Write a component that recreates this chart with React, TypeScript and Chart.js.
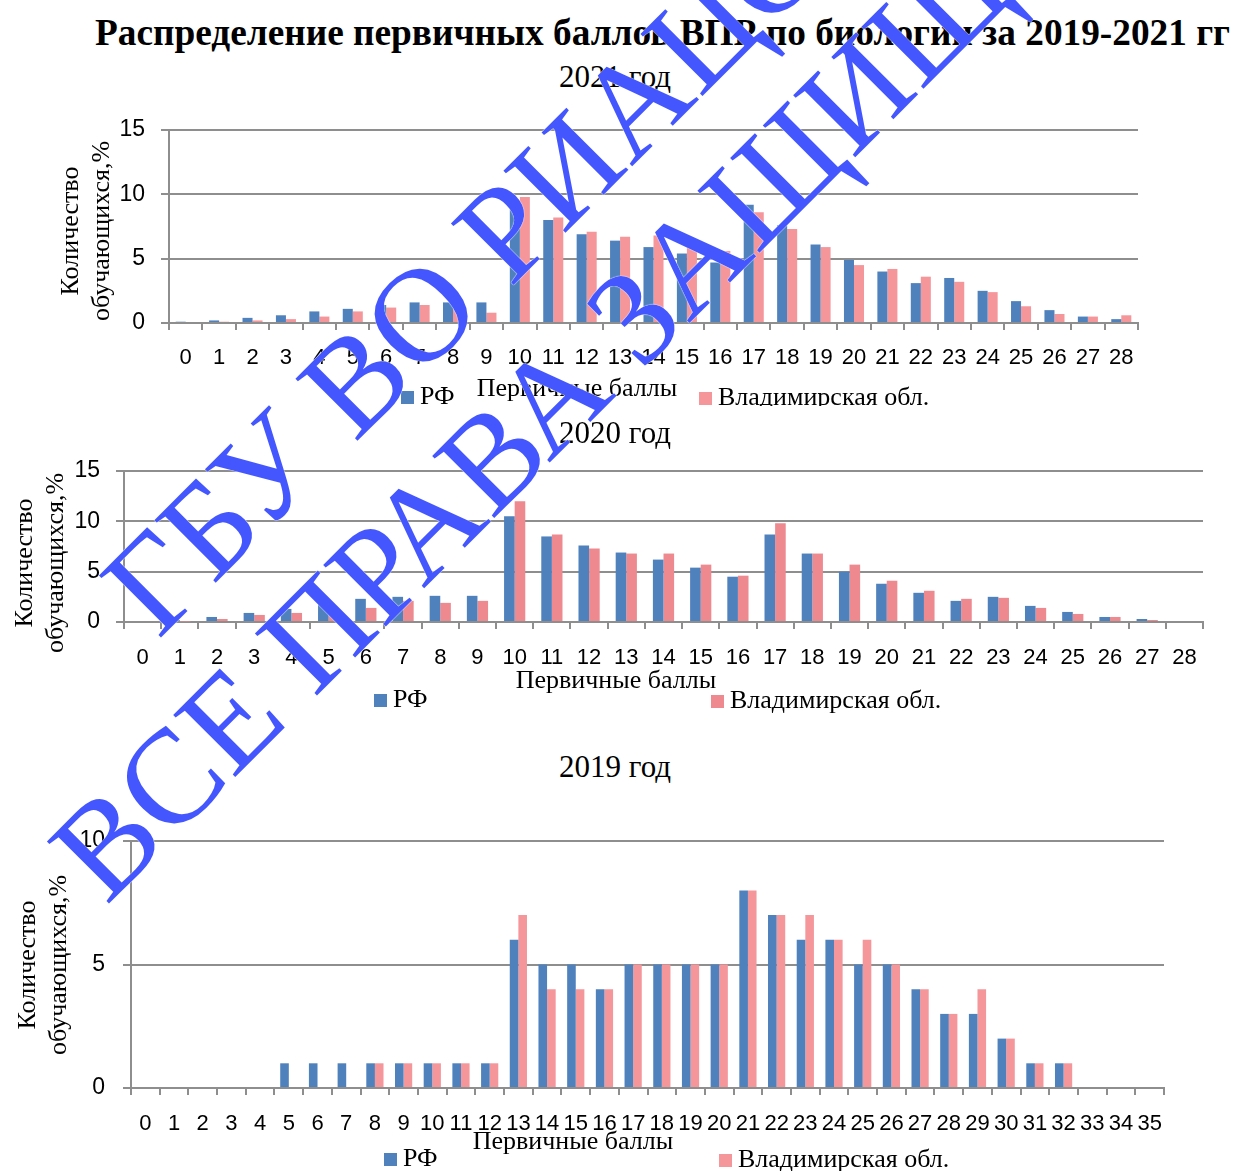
import React, { useEffect, useRef } from 'react';
import { Chart, registerables } from 'chart.js';

Chart.register(...registerables);

// ---------- DATA ----------
const labels2021 = ['0','1','2','3','4','5','6','7','8','9','10','11','12','13','14','15','16','17','18','19','20','21','22','23','24','25','26','27','28'];
const rf2021 = [0.1,0.2,0.4,0.6,0.9,1.1,1.4,1.6,1.6,1.6,9.1,8.0,6.9,6.4,5.9,5.4,4.7,9.2,7.6,6.1,4.9,4.0,3.1,3.5,2.5,1.7,1.0,0.5,0.3];
const vlad2021 = [0,0.1,0.2,0.3,0.5,0.9,1.2,1.4,1.4,0.8,9.8,8.2,7.1,6.7,6.8,6.2,5.6,8.6,7.3,5.9,4.5,4.2,3.6,3.2,2.4,1.3,0.7,0.5,0.6];

const labels2020 = ['0','1','2','3','4','5','6','7','8','9','10','11','12','13','14','15','16','17','18','19','20','21','22','23','24','25','26','27','28'];
const rf2020 = [0,0.2,0.5,0.9,1.3,1.8,2.3,2.5,2.6,2.6,10.5,8.5,7.6,6.9,6.2,5.4,4.5,8.7,6.8,5.0,3.8,2.9,2.1,2.5,1.6,1.0,0.5,0.3,0];
const vlad2020 = [0,0.05,0.3,0.7,0.9,1.3,1.4,2.1,1.9,2.1,12.0,8.7,7.3,6.8,6.8,5.7,4.6,9.8,6.8,5.7,4.1,3.1,2.3,2.4,1.4,0.8,0.5,0.2,0];

const labels2019 = ['0','1','2','3','4','5','6','7','8','9','10','11','12','13','14','15','16','17','18','19','20','21','22','23','24','25','26','27','28','29','30','31','32','33','34','35'];
const rf2019 = [0,0,0,0,0,1,1,1,1,1,1,1,1,6,5,5,4,5,5,5,5,8,7,6,6,5,5,4,3,3,2,1,1,0,0,0];
const vlad2019 = [0,0,0,0,0,0,0,0,1,1,1,1,1,7,4,4,4,5,5,5,5,8,7,7,6,6,5,4,3,4,2,1,1,0,0,0];

const yTicks15 = [0, 5, 10, 15];
const yTicks10 = [0, 5, 10];

const seriesNames = ['РФ', 'Владимирская обл.'];
const mainTitle = 'Распределение первичных баллов ВПР по биологии за 2019-2021 гг';
const xTitle = 'Первичные баллы';
const yTitleLines = ['Количество', 'обучающихся,%'];
const watermark1 = 'ГБУ ВО РИАЦОКО';
const watermark2 = 'ВСЕ ПРАВА ЗАЩИЩЕНЫ';

// ---------- STYLE ----------
const BLUE = '#4F81BD';
const PINK = '#F5969B';
const PINK2 = '#EE898F';
const GRID = '#8E8E8E';
const W = 1237;
const TOPPAD = 36;

type Panel = {
  labels: string[]; rf: number[]; vlad: number[]; yTicks: number[];
  bottom: number; left: number; right: number;
  plotTop: number; plotBottom: number; yPad: number; xPad: number; cat: number; pink: string;
};

function BarPanel({ p }: { p: Panel }) {
  const ref = useRef<HTMLCanvasElement | null>(null);
  const top = p.plotTop - TOPPAD;
  const height = p.bottom - top;
  useEffect(() => {
    if (!ref.current) return;
    const yMax = p.yTicks[p.yTicks.length - 1];
    const chart = new Chart(ref.current, {
      type: 'bar',
      data: {
        labels: p.labels,
        datasets: [
          { label: seriesNames[0], data: p.rf, backgroundColor: BLUE, borderWidth: 0, categoryPercentage: p.cat, barPercentage: 1 },
          { label: seriesNames[1], data: p.vlad, backgroundColor: p.pink, borderWidth: 0, categoryPercentage: p.cat, barPercentage: 1 },
        ],
      },
      options: {
        responsive: false,
        animation: false,
        devicePixelRatio: 1,
        layout: { padding: { top: TOPPAD, right: W - p.right, left: 0, bottom: 0 } },
        plugins: { legend: { display: false }, title: { display: false }, tooltip: { enabled: false } },
        scales: {
          x: {
            grid: { offset: true, drawOnChartArea: false, drawTicks: true, tickLength: 7, color: GRID, lineWidth: 2 },
            border: { display: true, color: GRID, width: 2 },
            ticks: {
              color: '#000', padding: p.xPad, autoSkip: false, maxRotation: 0, minRotation: 0,
              font: { family: 'Liberation Sans', size: 22 },
            },
            afterFit: (s: any) => { s.height = p.bottom - p.plotBottom; },
          },
          y: {
            min: 0, max: yMax,
            afterBuildTicks: (s: any) => { s.ticks = p.yTicks.map((v) => ({ value: v })); },
            ticks: { color: '#000', padding: p.yPad, font: { family: 'Liberation Sans', size: 23 } },
            grid: { color: GRID, lineWidth: 2, tickLength: 8 },
            border: { display: true, color: GRID, width: 2 },
            afterFit: (s: any) => { s.width = p.left; },
          },
        },
      },
    } as any);
    return () => chart.destroy();
  }, [p]);
  return (
    <canvas
      ref={ref}
      width={W}
      height={height}
      style={{ position: 'absolute', left: 0, top, width: W, height }}
    />
  );
}

const panels: Panel[] = [
  { labels: labels2021, rf: rf2021, vlad: vlad2021, yTicks: yTicks15, bottom: 382, left: 169, right: 1138, plotTop: 130, plotBottom: 323, yPad: 16, xPad: 15, cat: 0.6, pink: PINK },
  { labels: labels2020, rf: rf2020, vlad: vlad2020, yTicks: yTicks15, bottom: 682, left: 124, right: 1203, plotTop: 471, plotBottom: 622, yPad: 16, xPad: 16, cat: 0.57, pink: PINK2 },
  { labels: labels2019, rf: rf2019, vlad: vlad2019, yTicks: yTicks10, bottom: 1150, left: 131, right: 1164, plotTop: 841, plotBottom: 1088, yPad: 18, xPad: 16, cat: 0.6, pink: PINK },
];

function T({ x, y, size, bold, center, children }: { x: number; y: number; size: number; bold?: boolean; center?: boolean; children: React.ReactNode }) {
  return (
    <div style={{
      position: 'absolute', left: center ? x - 600 : x, width: center ? 1200 : undefined, top: y - size * 0.52,
      fontSize: size, lineHeight: 1, fontWeight: bold ? 'bold' : 'normal', whiteSpace: 'nowrap',
      textAlign: center ? 'center' : 'left', color: '#000', zIndex: 2,
    }}>{children}</div>
  );
}

function YTitle({ cx, cy }: { cx: number; cy: number }) {
  const w = 300, h = 62;
  return (
    <div style={{
      position: 'absolute', left: cx - w / 2, top: cy - h / 2, width: w, height: h,
      transform: 'rotate(-90deg)', textAlign: 'center', fontSize: 26, lineHeight: '31px', color: '#000', zIndex: 2,
    }}>
      <div>{yTitleLines[0]}</div>
      <div>{yTitleLines[1]}</div>
    </div>
  );
}

function Legend({ bx, rx, by, ry, pink, clip }: { bx: number; rx: number; by: number; ry: number; pink: string; clip?: number }) {
  return (
    <div style={{ position: 'absolute', left: 0, top: 0, width: W, height: clip ?? 1171, overflow: 'hidden', zIndex: 2 }}>
      <div style={{ position: 'absolute', left: bx, top: by - 6, width: 13, height: 13, background: BLUE }} />
      <T x={bx + 19} y={by} size={26}>{seriesNames[0]}</T>
      <div style={{ position: 'absolute', left: rx, top: ry - 6, width: 13, height: 13, background: pink }} />
      <T x={rx + 19} y={ry} size={26}>{seriesNames[1]}</T>
    </div>
  );
}

const WM_SIZE = 134;
function Watermark({ x, y, text }: { x: number; y: number; text: string }) {
  // (x, y) is the start of the baseline
  const off = WM_SIZE * 0.8375 * Math.SQRT1_2;
  return (
    <div style={{
      position: 'absolute', left: x - off, top: y - off, transformOrigin: '0 0', transform: 'rotate(-45deg)',
      fontFamily: '"Liberation Serif", serif', fontSize: WM_SIZE, lineHeight: 1, whiteSpace: 'nowrap',
      color: '#4457FF', zIndex: 10, pointerEvents: 'none',
      textShadow: '0 0 1px #fff, 0 0 1px #fff',
    }}>{text}</div>
  );
}

export default function App() {
  return (
    <div style={{
      position: 'absolute', left: 0, top: 0, width: W, height: 1171, background: '#fff', overflow: 'hidden',
      fontFamily: '"Liberation Serif", "Times New Roman", serif',
    }}>
      {panels.map((p, i) => <BarPanel key={i} p={p} />)}

      <T x={95} y={33} size={37.3} bold>{mainTitle}</T>

      <T x={615} y={77} size={31} center>2021 год</T>
      <T x={615} y={433} size={31} center>2020 год</T>
      <T x={615} y={767} size={31} center>2019 год</T>

      <YTitle cx={85} cy={231} />
      <YTitle cx={39} cy={563} />
      <YTitle cx={42} cy={965} />

      <T x={577} y={389} size={26} center>{xTitle}</T>
      <T x={616} y={681} size={26} center>{xTitle}</T>
      <T x={573} y={1142} size={26} center>{xTitle}</T>

      <Legend bx={401} by={397} rx={699} ry={398} pink={PINK} clip={406} />
      <Legend bx={374} by={700} rx={711} ry={701} pink={PINK2} />
      <Legend bx={384} by={1159} rx={719} ry={1160} pink={PINK} />

      <Watermark x={158} y={640} text={watermark1} />
      <Watermark x={106} y={906} text={watermark2} />
    </div>
  );
}
